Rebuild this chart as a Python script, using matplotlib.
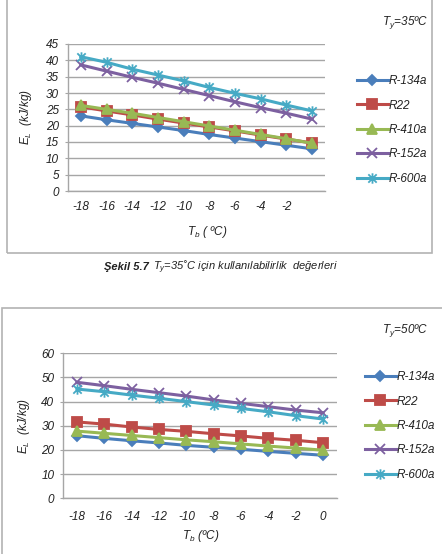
import matplotlib
matplotlib.use("Agg")
import matplotlib.pyplot as plt
from matplotlib.path import Path
from matplotlib.patches import Rectangle

plt.rcParams['font.family'] = ['Liberation Sans', 'DejaVu Sans']
plt.rcParams['mathtext.fontset'] = 'custom'
plt.rcParams['mathtext.rm'] = 'Liberation Sans:italic'
plt.rcParams['mathtext.it'] = 'Liberation Sans:italic'

# ---------------- data ----------------
tb = [-18, -16, -14, -12, -10, -8, -6, -4, -2, 0]
tick_labels_35 = ['-18', '-16', '-14', '-12', '-10', '-8', '-6', '-4', '-2', '']
tick_labels_50 = ['-18', '-16', '-14', '-12', '-10', '-8', '-6', '-4', '-2', '0']
series_names = ['R-134a', 'R22', 'R-410a', 'R-152a', 'R-600a']

r134a_35 = [23.0, 21.8, 20.7, 19.6, 18.5, 17.3, 16.2, 15.1, 14.0, 12.9]
r22_35 = [25.8, 24.5, 23.3, 22.0, 20.8, 19.6, 18.4, 17.1, 15.9, 14.7]
r410a_35 = [26.2, 25.0, 23.8, 22.5, 21.2, 19.9, 18.6, 17.3, 16.0, 14.6]
r152a_35 = [38.6, 36.7, 34.8, 33.0, 31.1, 29.2, 27.3, 25.5, 23.8, 22.0]
r600a_35 = [41.1, 39.4, 37.3, 35.5, 33.7, 31.7, 29.9, 28.2, 26.3, 24.5]

r134a_50 = [25.9, 24.8, 23.8, 22.9, 21.9, 21.1, 20.3, 19.4, 18.6, 17.8]
r22_50 = [31.6, 30.7, 29.5, 28.5, 27.7, 26.7, 25.8, 24.8, 24.0, 23.0]
r410a_50 = [27.8, 26.9, 26.0, 25.1, 24.2, 23.4, 22.5, 21.6, 20.8, 19.9]
r152a_50 = [48.0, 46.6, 45.1, 43.7, 42.3, 40.7, 39.3, 37.9, 36.5, 35.4]
r600a_50 = [45.2, 44.1, 42.7, 41.4, 40.0, 38.6, 37.2, 35.8, 34.2, 32.8]

# ---------------- styles ----------------
colors = ['#4a7ebb', '#be4b48', '#98b954', '#7d60a0', '#46aac5']
star = Path([(-1, -1), (1, 1), (-1, 1), (1, -1), (0, -1.25), (0, 1.25)],
            [Path.MOVETO, Path.LINETO, Path.MOVETO, Path.LINETO, Path.MOVETO, Path.LINETO])
markers = ['D', 's', '^', 'x', star]
msizes = [5.5, 7, 7, 7, 7.5]

W, H = 442, 554
fig = plt.figure(figsize=(W / 100, H / 100), dpi=100)


def fx(px):
    return px / W


def fy(py):
    return 1 - py / H


def make_chart(left, right, top, bottom, data, ymax, ystep, labels, ty_text, ty_pos,
               xlabel, xlabel_pos, ylabel_x, leg_x, leg_y, xpad):
    ax = fig.add_axes([fx(left), fy(bottom), fx(right - left), (bottom - top) / H])
    xs = list(range(len(tb)))
    for vals, c, m, ms, name in zip(data, colors, markers, msizes, series_names):
        ax.plot(xs, vals, color=c, lw=2.2, marker=m, ms=ms, mec=c, mfc=c, mew=1.3,
                label=name, zorder=3)
    ax.set_xlim(-0.5, len(tb) - 0.5)
    ax.set_ylim(0, ymax)
    ax.set_yticks(range(0, ymax + 1, ystep))
    ax.set_xticks(xs)
    ax.set_xticklabels(labels)
    ax.grid(axis='y', color='#a6a6a6', lw=1)
    ax.set_axisbelow(True)
    for s in ['top', 'right']:
        ax.spines[s].set_visible(False)
    for s in ['left', 'bottom']:
        ax.spines[s].set_color('#a6a6a6')
        ax.spines[s].set_linewidth(1)
    ax.tick_params(axis='y', length=2.5, color='#a6a6a6', pad=4, labelsize=8.5, labelcolor='#222222')
    ax.tick_params(axis='x', length=0, pad=xpad, labelsize=8.5, labelcolor='#222222')
    for t in ax.get_xticklabels() + ax.get_yticklabels():
        t.set_fontstyle('italic')
    fig.text(fx(ylabel_x), fy((top + bottom) / 2), r'$E_L$  (kJ/kg)', rotation=90,
             ha='center', va='center', fontsize=8.5, style='italic', color='#222222')
    fig.text(fx(xlabel_pos[0]), fy(xlabel_pos[1]), xlabel, ha='center', va='center',
             fontsize=8.5, style='italic', color='#222222')
    fig.text(fx(ty_pos[0]), fy(ty_pos[1]), ty_text, ha='center', va='center',
             fontsize=8.5, style='italic', color='#222222')
    leg = ax.legend(loc='center left', bbox_to_anchor=(fx(leg_x), fy(leg_y)),
                    bbox_transform=fig.transFigure, frameon=False, borderpad=0,
                    handlelength=2.6, handletextpad=0.1, labelspacing=1.05,
                    prop={'size': 8.5, 'style': 'italic'})
    for t in leg.get_texts():
        t.set_color('#222222')
    return ax


# frames
fig.add_artist(Rectangle((fx(7), fy(253)), fx(432 - 7), (253 + 10) / H, transform=fig.transFigure,
                         fill=False, ec='#b3b3b3', lw=1.2))
fig.add_artist(Rectangle((fx(2), fy(565)), fx(445), (565 - 308) / H, transform=fig.transFigure,
                         fill=False, ec='#b3b3b3', lw=1.2))

make_chart(68, 325, 44, 191, [r134a_35, r22_35, r410a_35, r152a_35, r600a_35], 45, 5,
           tick_labels_35, r'$T_y$=35ºC', (405, 23), r'$T_b$ ( ºC)', (207, 232), 26,
           351, 130, 7.5)
make_chart(63.3, 336.7, 353.3, 498.3, [r134a_50, r22_50, r410a_50, r152a_50, r600a_50], 60, 10,
           tick_labels_50, r'$T_y$=50ºC', (405, 330), r'$T_b$ (ºC)', (201, 536), 24,
           359, 426, 9)

# caption
fig.text(fx(104), fy(267), 'Şekil 5.7', ha='left', va='center', fontsize=8,
         weight='bold', style='italic', color='#222222')
fig.text(fx(153), fy(267), r'$T_y$=35˚C için kullanılabilirlik  değerleri', ha='left', va='center',
         fontsize=8, style='italic', color='#222222')

fig.savefig('out.png', dpi=100)
